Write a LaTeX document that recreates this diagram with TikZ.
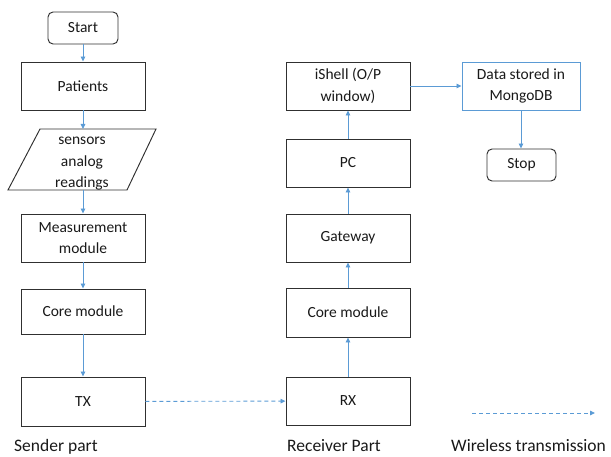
\documentclass[tikz,border=0pt]{standalone}
\usepackage{fontspec}
\setmainfont{Carlito}
\usetikzlibrary{arrows.meta}
\definecolor{arrowblue}{HTML}{5B9BD5}
\definecolor{boxgray}{HTML}{303030}
\tikzset{
  box/.style={draw=boxgray, line width=0.95pt, rectangle, inner sep=0pt, align=center,
    font=\fontsize{15.5}{21.5}\selectfont, text=black!90},
  termbox/.style={box, rounded corners=5pt},
  flow/.style={draw=arrowblue, line width=0.9pt, -{Triangle[length=5pt,width=4.5pt]}},
  wireless/.style={flow, dash pattern=on 4pt off 3pt},
  caption/.style={font=\fontsize{17.5}{21}\selectfont, anchor=base west, inner sep=0pt, text=black!90}
}
\begin{document}
\begin{tikzpicture}[x=1pt,y=-1pt]
\useasboundingbox (0,0) rectangle (611,457);
% left column
\node[termbox, minimum width=70pt, minimum height=32pt] (start) at (83,28) {Start};
\node[box, minimum width=124pt, minimum height=48pt] (pat) at (83,86) {Patients};
\draw[draw=boxgray, line width=0.95pt] (40,129) -- (156,129) -- (127,190) -- (8,190) -- cycle;
\coordinate (partop) at (83,129);
\coordinate (parbot) at (83,190);
\node[box, draw=none, anchor=base] (sens) at (82,188) {sensors\\analog\\readings};
\node[box, minimum width=124pt, minimum height=48pt] (meas) at (83,238) {Measurement\\module};
\node[box, minimum width=124pt, minimum height=45pt] (core1) at (83,311.5) {Core module};
\node[box, minimum width=124pt, minimum height=49pt] (tx) at (83,401.5) {TX};
% right column
\node[box, minimum width=124pt, minimum height=48pt] (rx) at (348,401) {RX};
\node[box, minimum width=124pt, minimum height=49pt] (core2) at (348,312.5) {Core module};
\node[box, minimum width=124pt, minimum height=48pt] (gw) at (348,238) {Gateway};
\node[box, minimum width=124pt, minimum height=48pt] (pc) at (348,163) {PC};
\node[box, minimum width=124pt, minimum height=48pt] (ish) at (348,86) {iShell (O/P\\window)};
\node[box, draw=arrowblue, minimum width=118pt, minimum height=48pt] (data) at (521,86) {Data stored in\\MongoDB};
\node[termbox, minimum width=69pt, minimum height=32pt] (stop) at (521.5,165) {Stop};
% connectors
\draw[flow] (start) -- (pat);
\draw[flow] (pat.south) -- (partop);
\draw[flow] (parbot) -- (meas.north);
\draw[flow] (meas) -- (core1);
\draw[flow] (core1) -- (tx);
\draw[wireless] (tx) -- (rx);
\draw[flow] (rx) -- (core2);
\draw[flow] (core2) -- (gw);
\draw[flow] (gw) -- (pc);
\draw[flow] (pc) -- (ish);
\draw[flow] (ish) -- (data);
\draw[flow] (data.south) -- (stop.north -| data.south);
% legend
\coordinate (lga) at (472,413);
\coordinate (lgb) at (595,413);
\draw[wireless] (lga) -- (lgb);
\node[caption] (lsend) at (14,451.5) {Sender part};
\node[caption] (lrecv) at (287,451.5) {Receiver Part};
\node[caption] (lwire) at (451,451.5) {Wireless transmission};
\end{tikzpicture}
\end{document}
